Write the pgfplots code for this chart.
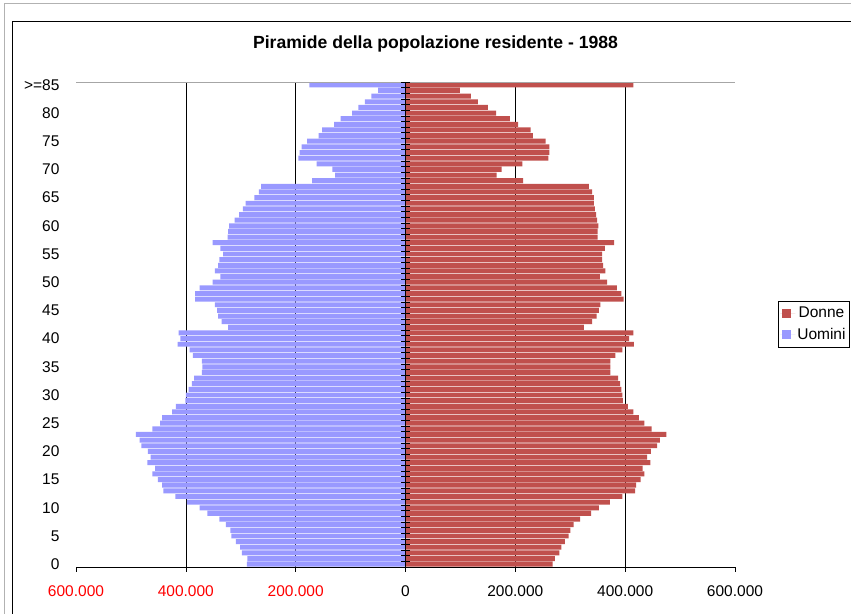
\documentclass[border=0pt]{standalone}
\usepackage{pgfplots}
\pgfplotsset{compat=1.18}
\usepackage{pgfplotstable}
\usepackage{fontspec}
\setmainfont{Liberation Sans}
\definecolor{uomini}{HTML}{9999FF}
\definecolor{donne}{HTML}{C0504D}

% eta, uomini (negativi), donne
\pgfplotstableread{
eta uomini donne
0 -289000 268000
1 -288000 272000
2 -298000 280000
3 -301000 284000
4 -309000 290000
5 -317000 297000
6 -319000 300000
7 -327000 306000
8 -339000 318000
9 -361000 338000
10 -375000 352000
11 -398000 372000
12 -419000 395000
13 -441000 418000
14 -443000 420000
15 -451000 428000
16 -461000 435000
17 -456000 432000
18 -470000 446000
19 -464000 440000
20 -469000 447000
21 -481000 458000
22 -484000 463000
23 -491000 475000
24 -461000 448000
25 -447000 435000
26 -443000 425000
27 -425000 415000
28 -418000 405000
29 -401000 396000
30 -400000 395000
31 -395000 393000
32 -389000 391000
33 -385000 387000
34 -371000 373000
35 -370000 373000
36 -371000 373000
37 -387000 382000
38 -393000 395000
39 -415000 416000
40 -410000 407000
41 -413000 415000
42 -323000 325000
43 -335000 340000
44 -341000 348000
45 -343000 352000
46 -347000 355000
47 -383000 397000
48 -383000 393000
49 -375000 385000
50 -351000 367000
51 -337000 354000
52 -347000 364000
53 -341000 360000
54 -339000 358000
55 -332000 358000
56 -337000 363000
57 -351000 380000
58 -324000 350000
59 -323000 350000
60 -321000 351000
61 -311000 349000
62 -303000 347000
63 -296000 345000
64 -291000 343000
65 -275000 343000
66 -267000 340000
67 -263000 334000
68 -170000 214000
69 -128000 166000
70 -133000 175000
71 -162000 213000
72 -195000 260000
73 -193000 262000
74 -189000 262000
75 -179000 255000
76 -158000 232000
77 -152000 228000
78 -130000 205000
79 -118000 190000
80 -97000 165000
81 -86000 150000
82 -74000 132000
83 -62000 119000
84 -50000 99000
85 -175000 415000
}\piramide

\begin{document}
\begin{tikzpicture}
\useasboundingbox (0bp,0bp) rectangle (851bp,614bp);
% cornice
\draw[gray!60, line width=1bp] (4.5bp,0bp) -- (4.5bp,610.5bp) -- (851bp,610.5bp);
\draw[black, line width=1bp] (12bp,0bp) -- (12bp,592.5bp) -- (851bp,592.5bp);

\begin{axis}[
    at={(76bp,47bp)}, anchor=south west,
    scale only axis, width=659bp, height=485bp,
    xmin=-600000, xmax=600000,
    ymin=-0.5, ymax=85.5,
    xbar, bar width=0.88, bar shift=0pt,
    axis x line*=bottom, axis y line*=left,
    y axis line style={draw=none},
    x axis line style={black, line width=0.8bp},
    tick align=outside,
    major tick length=5bp,
    scaled x ticks=false,
    xtick={-600000,-400000,-200000,0,200000,400000,600000},
    xticklabels={\textcolor{red}{600.000},\textcolor{red}{400.000},\textcolor{red}{200.000},0,200.000,400.000,600.000},
    xtick style={black, line width=0.6bp},
    ytick={0,5,10,15,20,25,30,35,40,45,50,55,60,65,70,75,80,85},
    yticklabels={0,5,10,15,20,25,30,35,40,45,50,55,60,65,70,75,80,>=85},
    ytick style={draw=none},
    extra x ticks={-400000,-200000,200000,400000},
    extra x tick labels={},
    extra x tick style={grid=major, major tick length=0pt},
    major grid style={black, line width=0.6bp},
    tick label style={font=\fontsize{15.5bp}{18bp}\selectfont},
    xticklabel style={yshift=-10bp},
    yticklabel style={xshift=-8bp},
    legend style={at={(1.0653,0.501)}, anchor=west, draw=black, line width=0.6bp,
        font=\fontsize{15.5bp}{18bp}\selectfont, inner xsep=2bp, inner ysep=4bp,
        row sep=5bp},
]
\addplot[fill=donne, draw=none,
    legend image code/.code={\fill[donne] (2bp,-4.5bp) rectangle (11bp,4.5bp);
        \path (0bp,0bp) -- (15bp,0bp);}]
    table[x=donne, y=eta] {\piramide};
\addplot[fill=uomini, draw=none,
    legend image code/.code={\fill[uomini] (2bp,-4.5bp) rectangle (11bp,4.5bp);
        \path (0bp,0bp) -- (15bp,0bp);}]
    table[x=uomini, y=eta] {\piramide};
\legend{Donne, Uomini}
\draw[gray!70, line width=0.8bp] (rel axis cs:0,1) -- (rel axis cs:1,1);
\end{axis}

% asse centrale delle classi di eta
\begin{axis}[
    at={(76bp,47bp)}, anchor=south west,
    scale only axis, width=659bp, height=485bp,
    xmin=-600000, xmax=600000,
    ymin=-0.5, ymax=85.5,
    axis x line=none, xtick=\empty,
    axis y line=center,
    y axis line style={-, black, line width=0.8bp},
    ytick={-0.5,0.5,...,85.5}, yticklabels={},
    tick align=center, major tick length=9bp,
    ytick style={black, line width=0.6bp},
]
\end{axis}

\node[anchor=base, font=\bfseries\fontsize{17.6bp}{20bp}\selectfont]
    at (435.5bp,565bp) {Piramide della popolazione residente - 1988};
\end{tikzpicture}
\end{document}
